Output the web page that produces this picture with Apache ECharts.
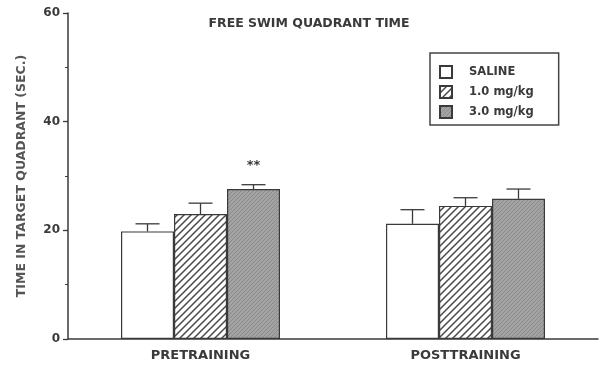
<!DOCTYPE html>
<html><head><meta charset="utf-8">
<script src="https://cdn.jsdelivr.net/npm/echarts@6/dist/echarts.min.js"></script>
<style>html,body{margin:0;padding:0;background:#fff}#c{width:605px;height:365px}</style>
</head><body><div id="c"></div>
<script>
const categories = ['PRETRAINING', 'POSTTRAINING'];
const seriesNames = ['SALINE', '1.0 mg/kg', '3.0 mg/kg'];
const salineMean = [19.8, 21.2];
const salineErr = [21.2, 23.8];
const dose1Mean = [23.0, 24.5];
const dose1Err = [25.0, 26.0];
const dose3Mean = [27.6, 25.8];
const dose3Err = [28.4, 27.6];
const dose3Sig = ['**', ''];
const yTicks = [0, 20, 40, 60];

const FONT = '"DejaVu Sans", "Liberation Sans", Arial, sans-serif';

function hatch(bg, line, size, lw) {
  const c = document.createElement('canvas');
  c.width = size; c.height = size;
  const g = c.getContext('2d');
  g.fillStyle = bg; g.fillRect(0, 0, size, size);
  g.strokeStyle = line; g.lineWidth = lw;
  g.beginPath();
  g.moveTo(-1, size + 1); g.lineTo(size + 1, -1);
  g.moveTo(-1, 1); g.lineTo(1, -1);
  g.moveTo(size - 1, size + 1); g.lineTo(size + 1, size - 1);
  g.stroke();
  return c;
}
const fills = [
  '#ffffff',
  { image: hatch('#ffffff', '#4a4a4a', 7, 1.5), repeat: 'repeat' },
  { image: hatch('#a3a3a3', '#8a8a8a', 4, 1), repeat: 'repeat' }
];
const means = [salineMean, dose1Mean, dose3Mean];
const errs = [salineErr, dose1Err, dose3Err];
const sigs = [['', ''], ['', ''], dose3Sig];
const BW = 53;
const ink = '#3a3a3a';

const series = [];
seriesNames.forEach((name, i) => {
  series.push({
    name, type: 'bar', data: means[i], barWidth: BW, barGap: '0%',
    itemStyle: { color: fills[i], borderColor: ink, borderWidth: 1.2 },
    emphasis: { disabled: true }
  });
});
seriesNames.forEach((name, i) => {
  const off = (i - 1) * BW;
  series.push({
    type: 'custom', name: name + ' err', silent: true, z: 5,
    data: categories.map((c, k) => [k, means[i][k], errs[i][k]]),
    renderItem(params, api) {
      const k = api.value(0);
      const p0 = api.coord([k, api.value(1)]);
      const p1 = api.coord([k, api.value(2)]);
      const x = p0[0] + off;
      const hw = 12;
      const style = { stroke: ink, lineWidth: 1.3 };
      const children = [
        { type: 'line', shape: { x1: x, y1: p0[1], x2: x, y2: p1[1] }, style },
        { type: 'line', shape: { x1: x - hw, y1: p1[1], x2: x + hw, y2: p1[1] }, style }
      ];
      const s = sigs[i][k];
      if (s) {
        children.push({ type: 'text', style: { text: s, x: x, y: p1[1] - 19, align: 'center', verticalAlign: 'middle',
          font: 'bold 13px ' + FONT, fill: ink } });
      }
      return { type: 'group', children };
    }
  });
});

const chart = echarts.init(document.getElementById('c'));
chart.setOption({
  animation: false,
  backgroundColor: '#fff',
  textStyle: { fontFamily: FONT },
  title: {
    text: 'FREE SWIM QUADRANT TIME', left: 304, top: 12, textAlign: 'center',
    textStyle: { fontSize: 12.5, fontWeight: 'bold', color: '#3a3a3a', fontFamily: FONT }
  },
  legend: {
    data: seriesNames, orient: 'vertical', left: 430, top: 53,
    itemWidth: 12, itemHeight: 12, itemGap: 6,
    padding: [12, 25, 6, 9],
    borderColor: '#444', borderWidth: 1.5,
    icon: 'rect',
    textStyle: { fontSize: 11.5, fontWeight: 'bold', color: '#3a3a3a', fontFamily: FONT, padding: [0, 0, 0, 12] },
    selectedMode: false
  },
  grid: { left: 68, right: 7, top: 13, bottom: 26 },
  xAxis: {
    type: 'category', data: categories,
    axisLine: { lineStyle: { color: ink, width: 1.5 } },
    axisTick: { show: false },
    axisLabel: { fontSize: 13, fontWeight: 'bold', color: '#3a3a3a', margin: 10, fontFamily: FONT }
  },
  yAxis: {
    type: 'value', min: 0, max: 60, interval: 20,
    name: 'TIME IN TARGET QUADRANT (SEC.)', nameLocation: 'middle', nameRotate: 90, nameGap: 40,
    nameTextStyle: { fontSize: 12.5, fontWeight: 'bold', color: '#555', fontFamily: FONT },
    axisLine: { show: true, lineStyle: { color: ink, width: 1.5 } },
    axisTick: { show: true, length: 5, lineStyle: { color: ink, width: 1.3 } },
    minorTick: { show: true, splitNumber: 2, length: 3, lineStyle: { color: ink, width: 1 } },
    splitLine: { show: false },
    axisLabel: { fontSize: 12, fontWeight: 'bold', color: '#3a3a3a', margin: 8, fontFamily: FONT,
      formatter: v => yTicks.includes(v) ? String(v) : '' }
  },
  series
});
</script></body></html>
